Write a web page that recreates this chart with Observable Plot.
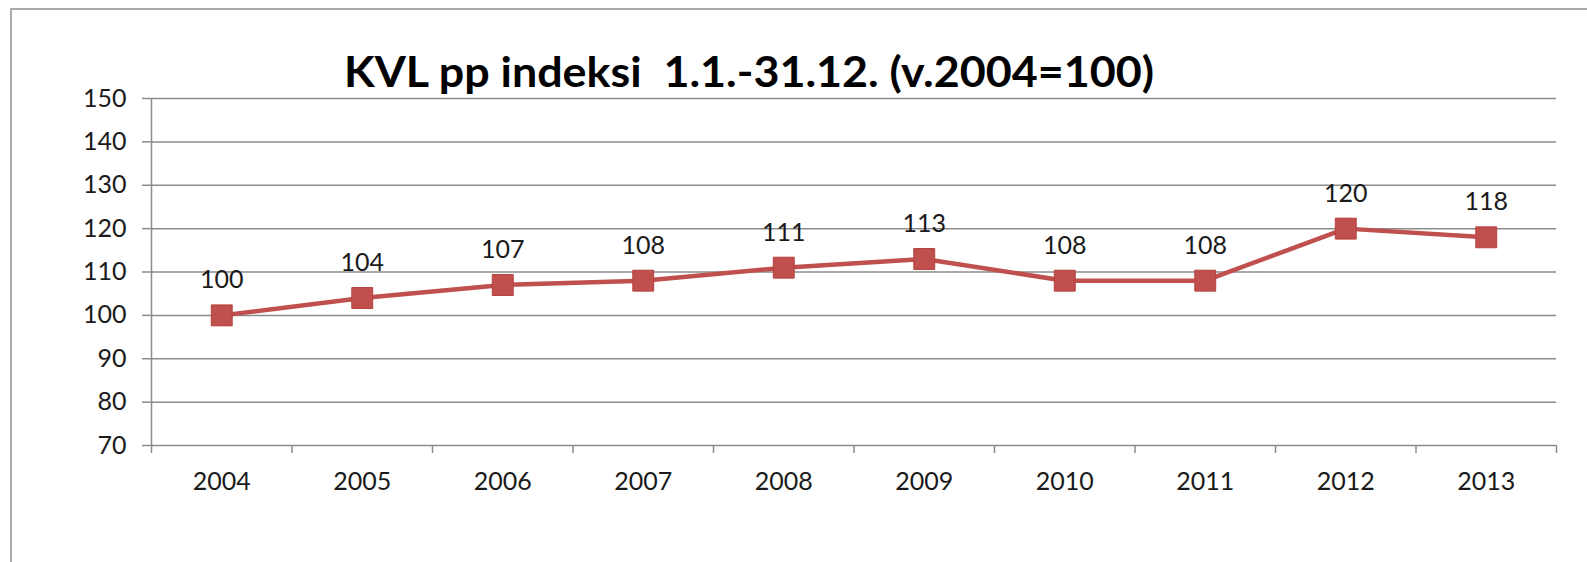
<!DOCTYPE html>
<html>
<head>
<meta charset="utf-8">
<script src="https://cdn.jsdelivr.net/npm/d3@7"></script>
<script src="https://cdn.jsdelivr.net/npm/@observablehq/plot@0.6"></script>
<style>
  html, body { margin: 0; padding: 0; background: #fff; overflow: hidden; }
  #wrap { position: relative; width: 1587px; height: 562px; }
  #frame { position: absolute; left: 10px; top: 8px; width: 1700px; height: 700px;
           border-top: 2px solid #a9a9a9; border-left: 2px solid #a9a9a9; pointer-events: none; }
  #title { position: relative; height: 80px; }
  #title span { position: absolute; top: 50px; left: 344px; white-space: pre;
           font-family: Lato, sans-serif; font-weight: bold;
           font-size: 42px; line-height: 1; color: #000; transform-origin: 0 0; }
  svg { display: block; }
</style>
</head>
<body>
<div id="wrap">
  <div id="title"><span id="tt">KVL pp indeksi  1.1.-31.12. (v.2004=100)</span></div>
  <div id="chart"></div>
  <div id="frame"></div>
</div>
<script>
const years = [2004, 2005, 2006, 2007, 2008, 2009, 2010, 2011, 2012, 2013];
const values = [100, 104, 107, 108, 111, 113, 108, 108, 120, 118];
const yTicks = [70, 80, 90, 100, 110, 120, 130, 140, 150];

const data = years.map((year, i) => ({year, value: values[i]}));
const bounds = years.map(y => y - 0.5).concat([years[years.length - 1] + 0.5]);

const font = 'Lato, sans-serif';
const fs = 25;
const grid = "#8c8c8c";
const red = "#C0504D";

const chart = Plot.plot({
  width: 1587,
  height: 482,
  marginLeft: 151,
  marginRight: 31,
  marginTop: 18,
  marginBottom: 117,
  style: {fontFamily: font, fontSize: fs + "px", color: "#1a1a1a", background: "transparent"},
  x: {type: "linear", domain: [bounds[0], bounds[bounds.length - 1]]},
  y: {domain: [70, 150]},
  marks: [
    Plot.ruleY(yTicks, {stroke: grid, strokeWidth: 1.5}),
    Plot.ruleX([bounds[0]], {stroke: grid, strokeWidth: 1.5}),
    Plot.axisY({ticks: yTicks, tickSize: 9, tickPadding: 16, stroke: grid, strokeWidth: 1.5,
                fill: "#1a1a1a", fontSize: fs, fontFamily: font, label: null, tickFormat: d => String(d)}),
    Plot.axisX({ticks: bounds, tickSize: 8, tickPadding: 0, stroke: grid, strokeWidth: 1.5,
                tickFormat: () => "", label: null}),
    Plot.axisX({ticks: years, tickSize: 0, tickPadding: 27, fill: "#1a1a1a", fontSize: fs, fontFamily: font,
                tickFormat: d => String(d), label: null}),
    Plot.line(data, {x: "year", y: "value", stroke: red, strokeWidth: 4.5}),
    Plot.dot(data, {x: "year", y: "value", symbol: "square", r: 11.8, fill: red,
                    stroke: "#b5423f", strokeWidth: 1}),
    Plot.text(data, {x: "year", y: "value", text: d => String(d.value), dy: -35,
                     fontSize: fs, fontFamily: font, fill: "#1a1a1a"})
  ]
});
document.getElementById("chart").appendChild(chart);

// fit title to reference width
const tt = document.getElementById("tt");
const w = tt.getBoundingClientRect().width;
tt.style.transform = `scaleX(${810 / w})`;
</script>
</body>
</html>
